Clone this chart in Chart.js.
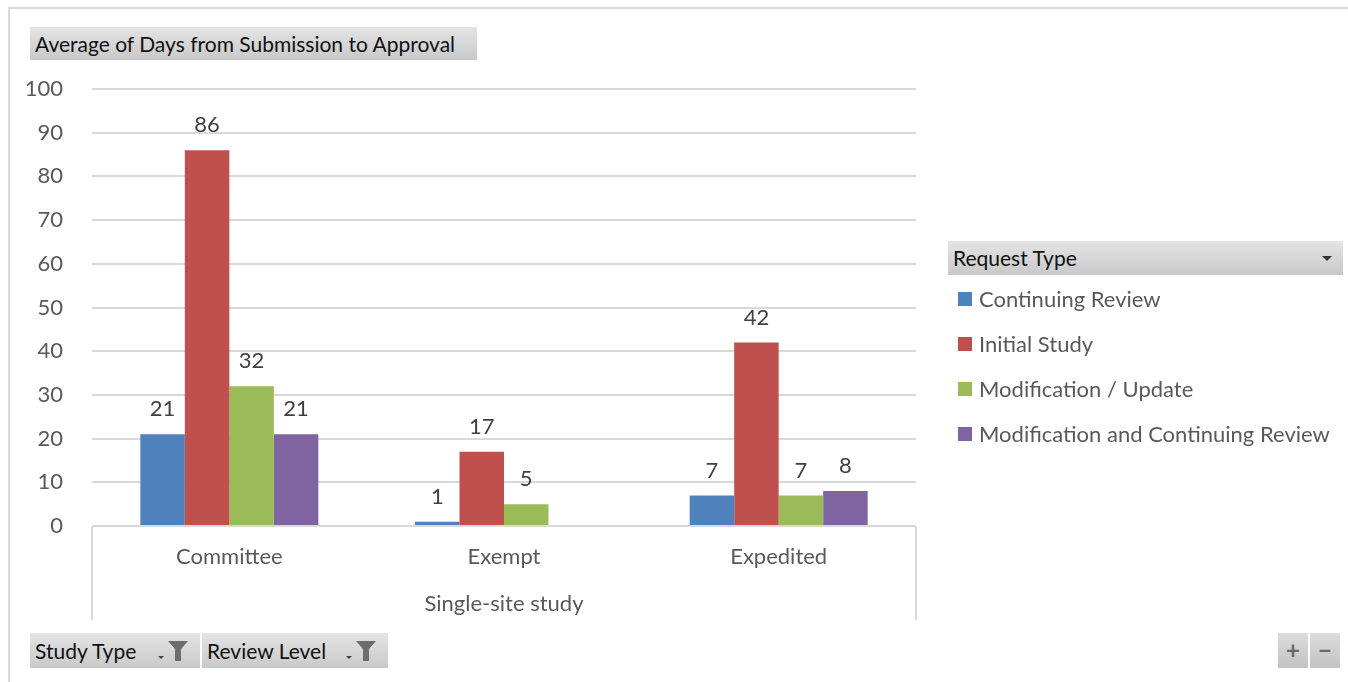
<!DOCTYPE html>
<html>
<head>
<meta charset="utf-8">
<script src="https://cdn.jsdelivr.net/npm/chart.js@4.4.1/dist/chart.umd.min.js"></script>
<style>
  body { margin: 0; background: #fff; font-family: Lato, "Open Sans", sans-serif; }
  #wrap { position: relative; width: 1348px; height: 682px; overflow: hidden; }
  #frame { position: absolute; left: 8px; top: 7px; width: 1345px; height: 690px; border: 2px solid #dadada; box-sizing: border-box; }
  #chart { position: absolute; left: 0; top: 0; }
  .pivotBtn {
    position: absolute; box-sizing: border-box;
    background: linear-gradient(#e4e4e4, #c9c9c9);
    color: #111; font-size: 21px; line-height: 33px; padding-left: 5px; white-space: nowrap;
  }
  .pivotBtn svg { position: absolute; }
  #legendBox { position: absolute; left: 948px; top: 276px; }
  .legendItem { position: relative; height: 45px; color: #595959; font-size: 22px; white-space: nowrap; }
  .legendItem span.swatch { position: absolute; left: 10px; top: 16px; width: 14px; height: 14px; }
  .legendItem span.name { position: absolute; left: 31px; top: 10px; line-height: 26px; }
  .zoomBtn { position: absolute; top: 633px; width: 30px; height: 35px; background: linear-gradient(#dcdcdc, #c3c3c3);
    color: #6a6a6a; font-size: 24px; font-weight: bold; text-align: center; line-height: 34px; }
</style>
</head>
<body>
<div id="wrap">
  <div id="frame"></div>
  <canvas id="chart" width="1348" height="682"></canvas>

  <div class="pivotBtn" style="left:30px; top:27px; width:447px; height:33px;">Average of Days from Submission to Approval</div>

  <div class="pivotBtn" style="left:948px; top:241px; width:395px; height:34px; line-height:34px;">Request Type
    <svg width="12" height="8" style="left:373px; top:14px;"><polygon points="1,1 11,1 6,6" fill="#333"/></svg>
  </div>
  <div id="legendBox"></div>

  <div class="pivotBtn" style="left:30px; top:633px; width:170px; height:35px; line-height:35px;">Study Type
    <svg width="40" height="26" style="left:126px; top:6px;">
      <polygon points="2,17 8,17 5,20" fill="#444"/>
      <polygon points="12,2 32,2 25,10 25,22 19,22 19,10" fill="#6d6d6d"/>
    </svg>
  </div>
  <div class="pivotBtn" style="left:202px; top:633px; width:186px; height:35px; line-height:35px;">Review Level
    <svg width="40" height="26" style="left:142px; top:6px;">
      <polygon points="2,17 8,17 5,20" fill="#444"/>
      <polygon points="12,2 32,2 25,10 25,22 19,22 19,10" fill="#6d6d6d"/>
    </svg>
  </div>

  <div class="zoomBtn" style="left:1278px;">+</div>
  <div class="zoomBtn" style="left:1310px;">−</div>
</div>

<script>
"use strict";
// Review levels along the x axis, grouped under one study type
const categories = ['Committee', 'Exempt', 'Expedited'];
const groupLabel = 'Single-site study';

// Request types (one series each) and their colours
const requestTypes = ['Continuing Review', 'Initial Study', 'Modification / Update', 'Modification and Continuing Review'];
const seriesColors = ['#4F81BD', '#C0504D', '#9BBB59', '#8064A2'];

// Average days from submission to approval
const continuingReview = [21, 1, 7];
const initialStudy = [86, 17, 42];
const modificationUpdate = [32, 5, 7];
const modificationContinuing = [21, null, 8];

// Value axis
const yMin = 0;
const yMax = 100;
const yStep = 10;

const seriesValues = [continuingReview, initialStudy, modificationUpdate, modificationContinuing];
const textGray = '#595959';
const fontFamily = 'Lato, "Open Sans", sans-serif';

// Value labels on top of each bar
const barLabels = {
    id: 'barLabels',
    afterDatasetsDraw(chart) {
        const ctx = chart.ctx;
        ctx.save();
        ctx.fillStyle = '#404040';
        ctx.font = '22px ' + fontFamily;
        ctx.textAlign = 'center';
        ctx.textBaseline = 'middle';
        chart.data.datasets.forEach((ds, i) => {
            chart.getDatasetMeta(i).data.forEach((bar, j) => {
                if (ds.data[j] == null) return;
                ctx.fillText(ds.data[j], bar.x, bar.y - 25);
            });
        });
        ctx.restore();
    }
};

// Outer category level: side lines and the study type label
const groupAxis = {
    id: 'groupAxis',
    afterDraw(chart) {
        const ctx = chart.ctx;
        const area = chart.chartArea;
        const xs = chart.scales.x;
        ctx.save();
        ctx.strokeStyle = '#d9d9d9';
        ctx.lineWidth = 2;
        ctx.beginPath();
        ctx.moveTo(area.left, area.bottom);
        ctx.lineTo(area.left, xs.bottom);
        ctx.moveTo(area.right, area.bottom);
        ctx.lineTo(area.right, xs.bottom);
        ctx.stroke();
        ctx.fillStyle = textGray;
        ctx.font = '22px ' + fontFamily;
        ctx.textAlign = 'center';
        ctx.textBaseline = 'middle';
        ctx.fillText(groupLabel, (area.left + area.right) / 2, xs.bottom - 16);
        ctx.restore();
    }
};

const chart = new Chart(document.getElementById('chart').getContext('2d'), {
    type: 'bar',
    data: {
        labels: categories,
        datasets: requestTypes.map((name, i) => ({
            label: name,
            data: seriesValues[i],
            backgroundColor: seriesColors[i],
            borderWidth: 0,
            categoryPercentage: 0.648,
            barPercentage: 1.0
        }))
    },
    options: {
        responsive: false,
        animation: false,
        events: [],
        layout: { padding: { left: 20, right: 432, top: 89, bottom: 62 } },
        plugins: {
            legend: { display: false },
            title: { display: false },
            tooltip: { enabled: false }
        },
        scales: {
            x: {
                grid: { display: false, drawTicks: false },
                border: { display: false },
                ticks: { color: textGray, font: { family: fontFamily, size: 22 }, padding: 18 },
                afterFit(scale) { scale.height = 94; }
            },
            y: {
                min: yMin,
                max: yMax,
                ticks: { stepSize: yStep, color: textGray, font: { family: fontFamily, size: 22 }, padding: 29 },
                grid: { color: '#d9d9d9', lineWidth: 2, drawTicks: false },
                border: { display: false },
                afterFit(scale) { scale.width = 72; }
            }
        }
    },
    plugins: [barLabels, groupAxis]
});

// Legend list built from the chart's datasets
const legendBox = document.getElementById('legendBox');
chart.data.datasets.forEach(ds => {
    const item = document.createElement('div');
    item.className = 'legendItem';
    item.innerHTML = '<span class="swatch" style="background:' + ds.backgroundColor + '"></span><span class="name"></span>';
    item.querySelector('.name').textContent = ds.label;
    legendBox.appendChild(item);
});
</script>
</body>
</html>
